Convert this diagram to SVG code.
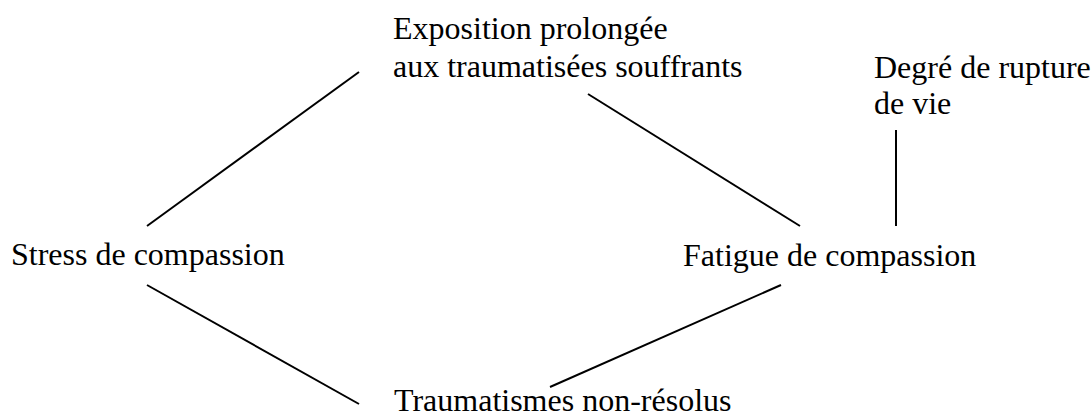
<svg xmlns="http://www.w3.org/2000/svg" width="1091" height="417" viewBox="0 0 1091 417">
<style>
text{font-family:"Liberation Serif","Times New Roman",serif;font-size:32px;fill:#000}
.c line{stroke:#000;stroke-width:2;fill:none}
</style>
<rect width="1091" height="417" fill="#fff"/>
<g id="exposition"><text x="393" y="39">Exposition prolongée</text><text x="393" y="77">aux traumatisées souffrants</text></g>
<g id="degre"><text x="874" y="78">Degré de rupture</text><text x="874" y="114">de vie</text></g>
<g id="stress"><text x="11" y="265">Stress de compassion</text></g>
<g id="fatigue"><text x="683" y="266">Fatigue de compassion</text></g>
<g id="traumatismes"><text x="394" y="411">Traumatismes non-résolus</text></g>
<g class="c" id="connectors">
<line x1="359" y1="72" x2="147" y2="226"/>
<line x1="147" y1="285" x2="359" y2="404"/>
<line x1="588" y1="94" x2="800" y2="226"/>
<line x1="896" y1="130" x2="896" y2="226"/>
<line x1="781" y1="285" x2="550" y2="387"/>
</g>
</svg>
